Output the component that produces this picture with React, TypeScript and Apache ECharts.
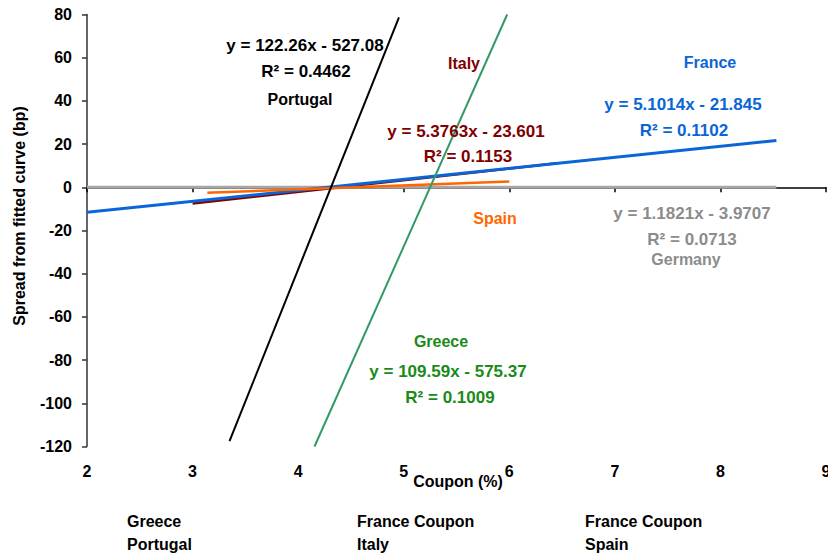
import React, { useEffect, useRef } from "react";
import * as echarts from "echarts";

// Axis ranges
const xRange = [2, 9];
const yRange = [-120, 80];

// Trendline end points: [coupon %, spread bp]
const germanyLine = [[2, 0], [8.53, 0]];
const italyLine = [[3.0, -7.5], [6.45, 11.1]];
const franceLine = [[2, -11.6], [8.53, 21.7]];
const spainLine = [[3.14, -2.5], [6.0, 2.7]];
const greeceLine = [[4.155, -120], [5.98, 80]];
const portugalLine = [[3.35, -117.5], [4.955, 78.7]];

// Annotation texts
const portugalText = ["y = 122.26x - 527.08", "R² = 0.4462", "Portugal"];
const italyText = ["Italy", "y = 5.3763x - 23.601", "R² = 0.1153"];
const franceText = ["France", "y = 5.1014x - 21.845", "R² = 0.1102"];
const germanyText = ["y = 1.1821x - 3.9707", "R² = 0.0713", "Germany"];
const greeceText = ["Greece", "y = 109.59x - 575.37", "R² = 0.1009"];
const spainText = "Spain";
const bottomTexts = ["Greece", "Portugal", "France Coupon", "Italy", "France Coupon", "Spain"];

const FONT = "Liberation Sans, Arial, sans-serif";

export default function App() {
  const ref = useRef<HTMLDivElement>(null);

  useEffect(() => {
    if (!ref.current) return;
    const chart = echarts.init(ref.current, undefined, { renderer: "svg" });

    const t = (text: string, x: number, y: number, fill: string, size = 16, align = "center") => ({
      type: "text",
      x,
      y,
      z: 100,
      style: {
        text,
        fill,
        align,
        verticalAlign: "middle",
        fontFamily: FONT,
        fontWeight: "bold",
        fontSize: size,
      },
    });

    const line = (name: string, data: number[][], color: string, width: number) => ({
      name,
      type: "line",
      data,
      symbol: "none",
      xAxisIndex: 0,
      yAxisIndex: 0,
      lineStyle: { color, width },
      silent: true,
    });

    chart.setOption({
      animation: false,
      backgroundColor: "#ffffff",
      grid: { left: 87, right: 2, top: 14.5, bottom: 106.5, outerBoundsMode: "none" },
      xAxis: [
        {
          type: "value",
          min: xRange[0],
          max: xRange[1],
          interval: 1,
          position: "bottom",
          axisLine: { show: true, onZero: true, lineStyle: { color: "#000", width: 1.5 } },
          axisTick: { show: true, length: 5, lineStyle: { color: "#000", width: 1.5 } },
          axisLabel: { show: false },
          splitLine: { show: false },
        },
        {
          type: "value",
          min: xRange[0],
          max: xRange[1],
          interval: 1,
          position: "bottom",
          axisLine: { show: false, onZero: false },
          axisTick: { show: false },
          axisLabel: {
            show: true,
            margin: 17,
            color: "#000",
            fontFamily: FONT,
            fontWeight: "bold",
            fontSize: 16,
          },
          splitLine: { show: false },
        },
      ],
      yAxis: {
        type: "value",
        min: yRange[0],
        max: yRange[1],
        interval: 20,
        axisLine: { show: true, onZero: false, lineStyle: { color: "#333", width: 1.5 } },
        axisTick: { show: true, length: 5, lineStyle: { color: "#333", width: 1.5 } },
        axisLabel: {
          margin: 15,
          color: "#000",
          fontFamily: FONT,
          fontWeight: "bold",
          fontSize: 16,
        },
        splitLine: { show: false },
      },
      series: [
        line("Germany", germanyLine, "#a6a6a6", 3),
        line("Italy", italyLine, "#800000", 2.5),
        line("France", franceLine, "#0a66d6", 3),
        line("Spain", spainLine, "#ff6600", 2.5),
        line("Greece", greeceLine, "#339966", 2),
        line("Portugal", portugalLine, "#000000", 2),
      ],
      graphic: [
        {
          type: "text",
          x: 19,
          y: 216,
          rotation: Math.PI / 2,
          z: 100,
          style: {
            text: "Spread from fitted curve (bp)",
            fill: "#000",
            align: "center",
            verticalAlign: "middle",
            fontFamily: FONT,
            fontWeight: "bold",
            fontSize: 16,
          },
        },
        t("Coupon (%)", 458, 481, "#000"),
        t(portugalText[0], 305, 45, "#000", 17),
        t(portugalText[1], 306, 71, "#000", 17),
        t(portugalText[2], 300, 99, "#000"),
        t(italyText[0], 464, 63, "#800000"),
        t(italyText[1], 466, 131, "#800000", 17),
        t(italyText[2], 468, 156, "#800000", 17),
        t(franceText[0], 710, 62, "#0a66d6"),
        t(franceText[1], 683, 104, "#0a66d6", 17),
        t(franceText[2], 684, 130, "#0a66d6", 17),
        t(spainText, 495, 218, "#ff6600"),
        t(germanyText[0], 692, 213, "#8c8c8c", 17),
        t(germanyText[1], 692, 239, "#8c8c8c", 17),
        t(germanyText[2], 686, 259, "#8c8c8c"),
        t(greeceText[0], 441, 341, "#1a8a1a"),
        t(greeceText[1], 448, 371, "#1a8a1a", 17),
        t(greeceText[2], 450, 397, "#1a8a1a", 17),
        t(bottomTexts[0], 127, 521, "#000", 16, "left"),
        t(bottomTexts[1], 127, 544, "#000", 16, "left"),
        t(bottomTexts[2], 357, 521, "#000", 16, "left"),
        t(bottomTexts[3], 357, 544, "#000", 16, "left"),
        t(bottomTexts[4], 585, 521, "#000", 16, "left"),
        t(bottomTexts[5], 585, 544, "#000", 16, "left"),
      ],
    });

    return () => chart.dispose();
  }, []);

  return (
    <div
      ref={ref}
      style={{ position: "fixed", left: 0, top: 0, width: 828, height: 553, background: "#fff" }}
    />
  );
}
